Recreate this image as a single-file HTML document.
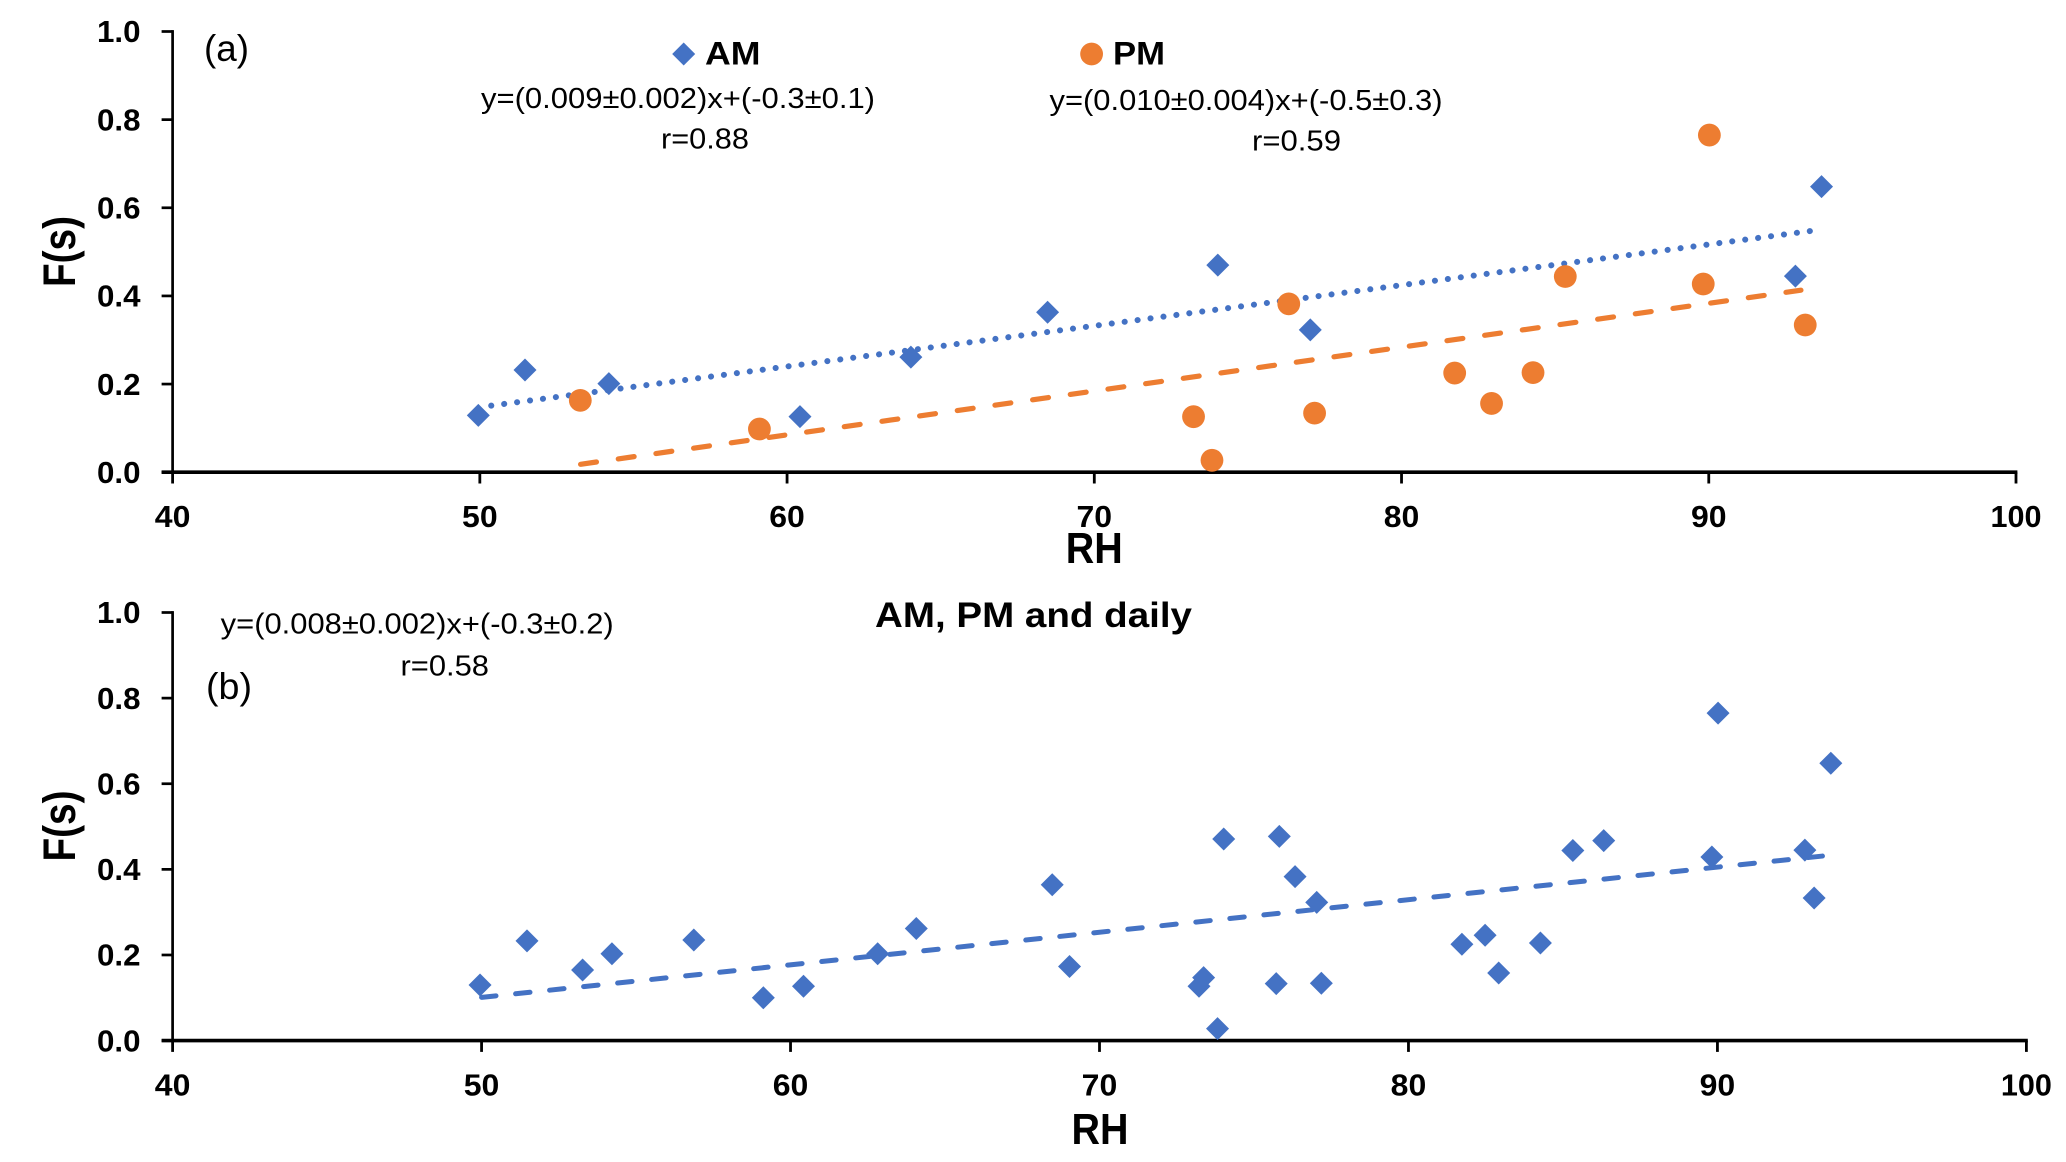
<!DOCTYPE html>
<html lang="en">
<head>
<meta charset="utf-8">
<title>F(s) versus RH</title>
<style>
html,body{margin:0;padding:0;background:#fff;width:2066px;height:1162px;overflow:hidden}
svg{display:block}
text{font-family:"Liberation Sans",Arial,sans-serif;fill:#000}
.b{font-weight:bold}
</style>
</head>
<body>
<svg id="chart" xmlns="http://www.w3.org/2000/svg" width="2066" height="1162" viewBox="0 0 2066 1162">
  <rect width="2066" height="1162" fill="#fff"/>
  <g id="panelA">
    <text x="204" y="61" font-size="37" textLength="45" lengthAdjust="spacingAndGlyphs">(a)</text>
    <polygon points="683.7,42.5 695.2,54 683.7,65.5 672.2,54" fill="#4472C4"/>
    <text class="b" x="705" y="64.5" font-size="32" textLength="55.5" lengthAdjust="spacingAndGlyphs">AM</text>
    <circle cx="1091.6" cy="54" r="11.4" fill="#ED7D31"/>
    <text class="b" x="1113" y="64.5" font-size="32" textLength="52" lengthAdjust="spacingAndGlyphs">PM</text>
    <text x="481" y="108" font-size="28.5" textLength="394" lengthAdjust="spacingAndGlyphs">y=(0.009±0.002)x+(-0.3±0.1)</text>
    <text x="661" y="148.5" font-size="28.5" textLength="88" lengthAdjust="spacingAndGlyphs">r=0.88</text>
    <text x="1049.5" y="110" font-size="28.5" textLength="393" lengthAdjust="spacingAndGlyphs">y=(0.010±0.004)x+(-0.5±0.3)</text>
    <text x="1252" y="150.5" font-size="28.5" textLength="89" lengthAdjust="spacingAndGlyphs">r=0.59</text>
    <text class="b" x="1094.3" y="563" font-size="44" text-anchor="middle" textLength="57" lengthAdjust="spacingAndGlyphs">RH</text>
    <text class="b" transform="translate(75 251.5) rotate(-90)" x="0" y="0" font-size="45" text-anchor="middle" textLength="71" lengthAdjust="spacingAndGlyphs">F(s)</text>
  </g>
  <g id="panelB">
    <text x="206" y="699" font-size="37" textLength="46" lengthAdjust="spacingAndGlyphs">(b)</text>
    <text class="b" x="875" y="627" font-size="35" textLength="317" lengthAdjust="spacingAndGlyphs">AM, PM and daily</text>
    <text x="220.7" y="633.5" font-size="28.5" textLength="393" lengthAdjust="spacingAndGlyphs">y=(0.008±0.002)x+(-0.3±0.2)</text>
    <text x="400.5" y="675.5" font-size="28.5" textLength="88.5" lengthAdjust="spacingAndGlyphs">r=0.58</text>
    <text class="b" x="1100" y="1144" font-size="44" text-anchor="middle" textLength="57" lengthAdjust="spacingAndGlyphs">RH</text>
    <text class="b" transform="translate(75 826) rotate(-90)" x="0" y="0" font-size="45" text-anchor="middle" textLength="71" lengthAdjust="spacingAndGlyphs">F(s)</text>
  </g>
</svg>
<script>
const xTicks = [40, 50, 60, 70, 80, 90, 100];
const yTicks = [0, 0.2, 0.4, 0.6, 0.8, 1.0];

const amRH = [49.95, 51.47, 54.2, 60.42, 64.03, 68.48, 74.02, 77.03, 92.82, 93.67];
const amFs = [0.129, 0.232, 0.201, 0.126, 0.261, 0.363, 0.47, 0.323, 0.445, 0.648];
const pmRH = [53.27, 59.1, 73.23, 73.83, 76.33, 77.17, 81.73, 82.93, 84.28, 85.33, 89.82, 90.02, 93.14];
const pmFs = [0.163, 0.098, 0.126, 0.027, 0.382, 0.134, 0.225, 0.156, 0.226, 0.444, 0.427, 0.765, 0.334];
const dailyRH = [49.95, 51.47, 53.27, 54.22, 56.87, 59.12, 60.42, 62.82, 64.07, 68.47, 69.03, 73.22, 73.37, 73.82, 74.02, 75.72, 75.82, 76.33, 77.03, 77.18, 81.73, 82.48, 82.92, 84.27, 85.32, 86.32, 89.82, 90.02, 92.83, 93.13, 93.67];
const dailyFs = [0.13, 0.233, 0.165, 0.203, 0.235, 0.1, 0.127, 0.203, 0.262, 0.364, 0.173, 0.127, 0.147, 0.028, 0.471, 0.133, 0.477, 0.383, 0.323, 0.134, 0.225, 0.246, 0.158, 0.228, 0.444, 0.467, 0.429, 0.765, 0.445, 0.333, 0.648];

const amTrendRH = [50.37, 93.33];
const amTrendFs = [0.151, 0.5475];
const pmTrendRH = [53.28, 93.0];
const pmTrendFs = [0.018, 0.413];
const dailyTrendRH = [50, 93.65];
const dailyTrendFs = [0.101, 0.433];

const NS = 'http://www.w3.org/2000/svg';
const BLUE = '#4472C4';
const ORANGE = '#ED7D31';

function linear(d0, d1, r0, r1) {
  return function (v) { return r0 + (v - d0) * (r1 - r0) / (d1 - d0); };
}
function make(tag, parent) {
  const el = document.createElementNS(NS, tag);
  parent.appendChild(el);
  return el;
}
function drawAxes(g, xs, ys, prefix) {
  const x0 = xs(40), y0 = ys(0);
  const yLine = make('line', g);
  
  
  yLine.setAttribute('x1', x0); yLine.setAttribute('x2', x0);
  yLine.setAttribute('y1', ys(1) - 1.4); yLine.setAttribute('y2', y0);
  yLine.setAttribute('stroke', '#000'); yLine.setAttribute('stroke-width', 2.7);
  const xLine = make('line', g);
  
  
  xLine.setAttribute('x1', x0 - 11); xLine.setAttribute('x2', xs(100) + 1.4);
  xLine.setAttribute('y1', y0); xLine.setAttribute('y2', y0);
  xLine.setAttribute('stroke', '#000'); xLine.setAttribute('stroke-width', 3.6);
  yTicks.forEach(function (v) {
    const t = make('line', g);
    
    
    t.setAttribute('x1', x0 - 11); t.setAttribute('x2', x0);
    t.setAttribute('y1', ys(v)); t.setAttribute('y2', ys(v));
    t.setAttribute('stroke', '#000'); t.setAttribute('stroke-width', 2.7);
    const l = make('text', g);
    
    
    l.setAttribute('class', 'b');
    l.setAttribute('x', 140.5); l.setAttribute('y', ys(v) + 10.7);
    l.setAttribute('font-size', 30.5);
    l.setAttribute('text-anchor', 'end');
    l.setAttribute('textLength', 43.5);
    l.setAttribute('lengthAdjust', 'spacingAndGlyphs');
    l.textContent = v.toFixed(1);
  });
  xTicks.forEach(function (v) {
    const t = make('line', g);
    
    
    t.setAttribute('x1', xs(v)); t.setAttribute('x2', xs(v));
    t.setAttribute('y1', y0); t.setAttribute('y2', y0 + 11.3);
    t.setAttribute('stroke', '#000'); t.setAttribute('stroke-width', 2.8);
    const l = make('text', g);
    
    
    l.setAttribute('class', 'b');
    l.setAttribute('x', xs(v)); l.setAttribute('y', y0 + 55);
    l.setAttribute('font-size', 30.5);
    l.setAttribute('text-anchor', 'middle');
    l.setAttribute('textLength', v === 100 ? 51 : 35.6);
    l.setAttribute('lengthAdjust', 'spacingAndGlyphs');
    l.textContent = String(v);
  });
}
function drawTrend(g, xs, ys, rh, fs, color, dash, cap, width, name) {
  const l = make('line', g);
  
  
  l.setAttribute('x1', xs(rh[0])); l.setAttribute('y1', ys(fs[0]));
  l.setAttribute('x2', xs(rh[1])); l.setAttribute('y2', ys(fs[1]));
  l.setAttribute('stroke', color);
  l.setAttribute('stroke-width', width);
  l.setAttribute('stroke-dasharray', dash);
  l.setAttribute('stroke-linecap', cap);
}
function drawDiamonds(g, xs, ys, rh, fs, name) {
  rh.forEach(function (v, i) {
    const cx = xs(v), cy = ys(fs[i]), r = 11.5;
    const p = make('polygon', g);
    
    
    p.setAttribute('points', [cx, cy - r, cx + r, cy, cx, cy + r, cx - r, cy].join(' '));
    p.setAttribute('fill', BLUE);
  });
}
function drawCircles(g, xs, ys, rh, fs, name) {
  rh.forEach(function (v, i) {
    const c = make('circle', g);
    
    
    c.setAttribute('cx', xs(v));
    c.setAttribute('cy', ys(fs[i]));
    c.setAttribute('r', 11.4);
    c.setAttribute('fill', ORANGE);
  });
}

const gA = document.getElementById('panelA');
const xA = linear(40, 100, 172.6, 2016);
const yA = linear(0, 1, 472.2, 31.5);
drawAxes(gA, xA, yA, 'panel-a');
drawDiamonds(gA, xA, yA, amRH, amFs, 'am-point');
drawTrend(gA, xA, yA, amTrendRH, amTrendFs, BLUE, '0.1 12.94', 'round', 6, 'am-trendline');
drawTrend(gA, xA, yA, pmTrendRH, pmTrendFs, ORANGE, '16 22.05', 'round', 5.2, 'pm-trendline');
drawCircles(gA, xA, yA, pmRH, pmFs, 'pm-point');

const gB = document.getElementById('panelB');
const xB = linear(40, 100, 172.6, 2026.4);
const yB = linear(0, 1, 1040.6, 612.5);
drawAxes(gB, xB, yB, 'panel-b');
drawTrend(gB, xB, yB, dailyTrendRH, dailyTrendFs, BLUE, '14.5 19.7', 'round', 5, 'daily-trendline');
drawDiamonds(gB, xB, yB, dailyRH, dailyFs, 'daily-point');
</script>
</body>
</html>
